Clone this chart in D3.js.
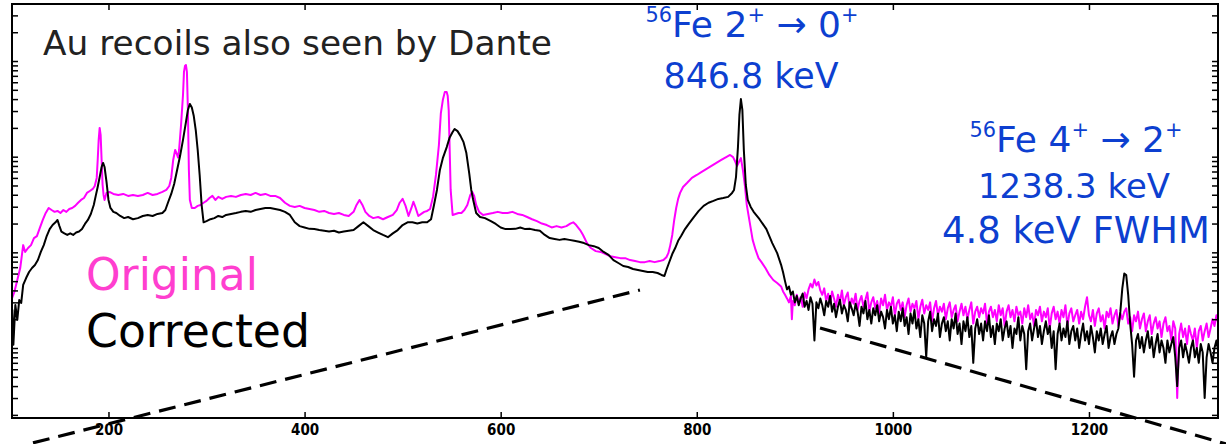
<!DOCTYPE html>
<html>
<head>
<meta charset="utf-8">
<script src="https://cdn.jsdelivr.net/npm/d3@7"></script>
<style>
  body { margin: 0; background: #fff; }
  svg { display: block; }
</style>
</head>
<body>
<svg id="chart" width="1226" height="444"></svg>
<script>
// ---------------- DATA ----------------
const xTicks = [200, 400, 600, 800, 1000, 1200];
const xDomain = [101.6, 1331.6];          // keV
const yDomain = [1.855, 39450];           // counts (log)

// Original (uncorrected) spectrum  [energy keV, counts]
const originalSpectrum = [
[101,31.8],[104,38.5],[107,51.4],[110,68.6],[113,119],[115,101],[118,111],[121,119],[124,141],[127,148],
[130,180],[133,218],[136,258],[139,291],[142,277],[145,265],[148,271],[151,258],[154,277],[157,265],
[160,284],[163,291],[166,306],[169,330],[172,353],[175,370],[178,418],[181,438],[184,460],[186,494],
[188,600],[189,924],[190,1500],[191,2000],[192,1690],[193,924],[194,506],[195,398],[196,353],[198,418],
[201,428],[205,408],[210,398],[215,408],[220,389],[225,398],[230,389],[235,398],[240,418],[245,398],
[250,408],[255,428],[259,449],[262,494],[264,600],[266,924],[268,1175],[270,1042],[271,980],[272,1175],
[274,2140],[276,4410],[277,7700],[278,8860],[279,9080],[280,7700],[281,3080],[282,727],[283,353],[285,291],
[288,291],[291,306],[294,313],[297,330],[300,345],[303,370],[306,389],[309,353],[312,380],[316,362],
[320,380],[325,389],[330,380],[335,398],[340,408],[345,398],[350,418],[355,398],[360,408],[365,389],
[370,389],[375,370],[380,330],[385,306],[390,298],[395,306],[400,291],[405,284],[410,277],[415,265],
[420,271],[425,258],[430,252],[435,258],[440,246],[445,240],[450,265],[453,313],[456,353],[459,313],
[462,265],[466,240],[470,228],[475,234],[480,222],[485,234],[490,246],[494,277],[497,330],[500,362],
[503,306],[506,240],[509,291],[511,338],[513,298],[516,240],[519,252],[522,265],[525,271],[528,284],
[531,380],[534,644],[537,1325],[539,2860],[541,3910],[543,4730],[545,4730],[546,4300],[547,3080],[548,1175],
[549,449],[551,246],[554,252],[557,258],[560,258],[563,277],[566,313],[569,398],[571,428],[573,389],
[575,313],[578,265],[582,246],[587,252],[592,258],[597,265],[602,258],[607,258],[612,265],[617,252],
[622,246],[627,234],[632,222],[637,212],[642,200],[647,193],[652,182],[657,188],[662,182],[667,188],
[671,200],[674,206],[677,193],[681,171],[684,152],[688,125],[692,111],[697,103],[702,101],[707,96],
[712,91],[717,89],[722,87],[727,87],[732,83],[737,81],[742,79],[747,79],[752,81],[757,79],
[762,81],[766,83],[769,89],[771,98],[773,119],[775,152],[777,218],[779,291],[781,362],[783,418],
[786,482],[790,530],[795,600],[800,644],[805,695],[810,745],[815,800],[820,860],[825,924],[830,990],
[834,1042],[837,990],[839,900],[841,800],[843,880],[845,965],[847,727],[849,506],[851,313],[854,206],
[857,135],[860,106],[863,87],[866,79],[870,68.6],[874,58],[878,51.4],[882,47.8],
[886,44],[888,39],[890,36],[892,33],[894,30],[896,35],[897,20],[898,31],[900,28],[902,36],
[904,30],[906,34],[908,27],[910,38],[912,33],[914,41],[916,47],[918,43],[920,52],[922,45],
[924,49],[926,40],[928,36],[930,42],[932,31],[934,37],[936,29],[938,39],[940,33],[942,27],
[944,36],[946,30],[948,40],[950,28],[952,34],[954,38],[956,26],[958,33],[960,29],[962,37],
[964,25],[966,31],[968,35],[970,27],[972,32],[974,38],[976,24],[978,30],[980,34],[982,26],
[984,31],[986,23],[988,33],[990,28],[992,36],[994,25],[996,30],[998,27],[1000,34],[1002,22],
[1004,29],[1006,32],[1008,25],[1010,30],[1012,21],[1014,28],[1016,33],[1018,24],[1020,29],[1022,26],
[1024,31],[1026,20],[1028,27],[1030,32],[1032,23],[1034,28],[1036,25],[1038,30],[1040,19],[1042,26],
[1044,31],[1046,22],[1048,27],[1050,24],[1052,29],[1054,20],[1056,26],[1058,30],[1060,21],[1062,25],
[1064,28],[1066,19],[1068,24],[1070,29],[1072,22],[1074,27],[1076,20],[1078,25],[1080,30],[1082,18],
[1084,24],[1086,27],[1088,21],[1090,26],[1092,23],[1094,29],[1096,18],[1098,24],[1100,27],[1102,21],
[1104,25],[1106,19],[1108,28],[1110,22],[1112,26],[1114,17],[1116,24],[1118,28],[1120,21],[1122,25],
[1124,19],[1126,27],[1128,22],[1130,24],[1132,18],[1134,26],[1136,21],[1138,28],[1140,20],[1142,23],
[1144,17],[1146,25],[1148,22],[1150,27],[1152,19],[1154,24],[1156,21],[1158,26],[1160,16],[1162,23],
[1164,27],[1166,20],[1168,24],[1170,18],[1172,25],[1174,21],[1176,28],[1178,17],[1180,23],[1182,26],
[1184,19],[1186,22],[1188,25],[1190,18],[1192,24],[1194,20],[1196,27],[1198,34],[1200,22],[1202,19],
[1204,25],[1206,17],[1208,23],[1210,26],[1212,19],[1214,22],[1216,16],[1218,24],[1220,21],[1222,26],
[1224,18],[1226,22],[1228,25],[1230,17],[1232,23],[1234,20],[1236,24],[1238,26],[1240,18],[1242,21],
[1244,15],[1246,22],[1248,19],[1250,24],[1252,16],[1254,20],[1256,23],[1258,15],[1260,19],[1262,22],
[1264,14],[1266,18],[1268,21],[1270,16],[1272,19],[1274,13],[1276,18],[1278,21],[1280,15],[1282,17],
[1284,12],[1286,19],[1288,16],[1290,3],[1292,14],[1294,18],[1296,13],[1298,16],[1300,11],[1302,17],
[1304,14],[1306,12],[1308,16],[1310,10],[1312,15],[1314,17],[1316,12],[1318,15],[1320,18],[1322,13],
[1324,16],[1326,20],[1328,17],[1330,22],[1332,18]
];

// Doppler-corrected spectrum  [energy keV, counts]
const correctedSpectrum = [
[101,12.2],[102,25.0],[103,10.8],[105,28.2],[107,19.7],[109,31.8],[111,29.6],[113,45.6],[116,53.9],[119,62.3],
[122,68.6],[125,73.7],[128,83.2],[131,101],[134,119],[137,148],[140,175],[143,193],[146,206],[148,218],
[150,188],[152,165],[155,158],[158,152],[161,158],[164,152],[167,161],[170,165],[173,175],[176,198],
[179,218],[182,252],[185,313],[187,389],[189,482],[191,610],[193,780],[194.5,860],[196,780],[198,545],
[200,353],[202,291],[205,265],[208,258],[212,240],[216,228],[220,234],[225,222],[230,228],[235,240],
[240,246],[245,240],[250,252],[255,258],[258,277],[261,338],[264,408],[267,518],[270,727],[273,1015],
[276,1500],[279,2300],[281,3080],[283,3560],[285,3260],[287,2660],[289,1900],[291,1175],[293,644],[295,313],
[297,206],[300,212],[304,222],[308,228],[312,240],[316,234],[320,246],[325,252],[330,258],[335,265],
[340,271],[345,265],[350,277],[355,284],[360,291],[365,291],[370,284],[375,277],[380,265],[385,246],
[390,206],[395,188],[400,182],[405,176],[410,175],[415,171],[420,168],[425,165],[430,168],[435,161],
[440,165],[445,168],[450,171],[455,188],[460,206],[465,188],[470,171],[475,161],[480,152],[485,144],
[490,158],[495,171],[500,193],[505,206],[510,206],[515,200],[520,206],[525,206],[529,222],[532,313],
[535,449],[538,727],[541,965],[545,1260],[548,1590],[551,1810],[553,1950],[556,1850],[559,1650],[562,1430],
[565,1090],[568,660],[570,449],[572,353],[575,258],[579,234],[584,228],[590,212],[595,198],[600,182],
[605,175],[610,175],[615,176],[620,182],[625,175],[630,176],[635,171],[640,168],[645,152],[650,141],
[655,138],[660,135],[665,138],[670,135],[675,132],[680,129],[685,125],[690,119],[695,116],[700,111],
[705,101],[710,94],[715,83],[720,77.4],[725,72],[730,70.3],[735,67],[740,65.4],[745,63.8],[750,62.3],
[755,62.3],[760,60.8],[764,58],[767,56.6],[769,65.4],[772,79.3],[775,96],[778,111],[781,132],[784,148],
[788,175],[792,200],[797,234],[802,271],[807,306],[812,330],[817,345],[822,362],[827,370],[832,380],
[836,418],[838,449],[840,610],[842,1260],[843.5,2730],[845,4000],[846.5,3080],[848,1175],[850,506],[852,353],
[855,298],[858,265],[864,222],[871,175],[877,125],[882,98],
[886,74],[888,62],[890,50],[892,41],[894,44],[896,36],[898,39],[900,30],[902,35],[904,28],
[906,33],[908,37],[910,27],[912,31],[914,25],[916,34],[918,29],[920,12],[922,30],[924,26],
[926,33],[928,28],[930,22],[932,31],[934,27],[936,35],[938,24],[940,29],[942,21],[944,27],
[946,32],[948,23],[950,28],[952,25],[954,19],[956,30],[958,26],[960,22],[962,29],[964,24],
[966,17],[968,27],[970,23],[972,31],[974,20],[976,25],[978,18],[980,26],[982,22],[984,28],
[986,19],[988,24],[990,21],[992,16],[994,25],[996,20],[998,27],[1000,18],[1002,22],[1004,15],
[1006,24],[1008,19],[1010,26],[1012,17],[1014,21],[1016,14],[1018,23],[1020,18],[1022,25],[1024,16],
[1026,20],[1028,13],[1030,22],[1032,18],[1034,8],[1036,19],[1038,24],[1040,15],[1042,20],[1044,17],
[1046,23],[1048,13],[1050,18],[1052,21],[1054,15],[1056,19],[1058,12],[1060,20],[1062,16],[1064,23],
[1066,14],[1068,18],[1070,11],[1072,19],[1074,15],[1076,21],[1078,13],[1080,17],[1082,7],[1084,16],
[1086,20],[1088,14],[1090,18],[1092,12],[1094,19],[1096,15],[1098,22],[1100,13],[1102,17],[1104,11],
[1106,18],[1108,15],[1110,20],[1112,12],[1114,16],[1116,19],[1118,13],[1120,17],[1122,10],[1124,16],
[1126,14],[1128,21],[1130,12],[1132,17],[1134,14],[1136,6],[1138,15],[1140,18],[1142,12],[1144,16],
[1146,20],[1148,13],[1150,17],[1152,11],[1154,15],[1156,19],[1158,14],[1160,17],[1162,10],[1164,15],
[1166,6],[1168,14],[1170,18],[1172,12],[1174,16],[1176,13],[1178,19],[1180,11],[1182,15],[1184,17],
[1186,12],[1188,16],[1190,10],[1192,14],[1194,18],[1196,12],[1198,15],[1200,11],[1202,17],[1204,13],
[1206,9],[1208,15],[1210,12],[1212,16],[1214,11],[1216,14],[1218,17],[1220,10],[1222,13],[1224,15],
[1226,11],[1228,14],[1230,16],[1232,24],[1234,42],[1236,60],[1238,58],[1240,36],[1242,18],[1244,11],
[1246,5],[1248,12],[1250,14],[1252,10],[1254,13],[1256,9],[1258,12],[1260,15],[1262,10],[1264,13],
[1266,8],[1268,11],[1270,14],[1272,9],[1274,12],[1276,10],[1278,7],[1280,12],[1282,9],[1284,11],
[1286,13],[1288,8],[1290,4],[1292,10],[1294,12],[1296,8],[1298,11],[1300,9],[1302,7],[1304,10],
[1306,12],[1308,8],[1310,10],[1312,7],[1314,11],[1316,9],[1318,3],[1320,8],[1322,11],[1324,9],
[1326,7],[1328,10],[1330,12],[1332,9]
];

// Hand-drawn dashed background guide lines [energy keV, counts]
const guideLeft  = [[123, 1.02], [742, 40.4]];
const guideRight = [[925.7, 16.2], [1339.7, 0.995]];

// ---------------- CHART ----------------
const plot = { left: 12, right: 1218, top: 4, bottom: 418 };

const svg = d3.select("#chart");
const x = d3.scaleLinear().domain(xDomain).range([plot.left, plot.right]);
const y = d3.scaleLog().domain(yDomain).range([plot.bottom, plot.top]);

svg.append("defs").append("clipPath").attr("id", "clip")
  .append("rect").attr("x", plot.left).attr("y", plot.top)
  .attr("width", plot.right - plot.left).attr("height", plot.bottom - plot.top);

// log minor ticks
const yTickVals = [];
[1, 10, 100, 1000, 10000].forEach(d => {
  for (let k = 1; k <= 9; k++) {
    const v = k * d;
    if (v >= yDomain[0] && v <= yDomain[1]) yTickVals.push(v);
  }
});

const line = d3.line().x(d => x(d[0])).y(d => y(d[1]));

const g = svg.append("g").attr("clip-path", "url(#clip)");
g.append("path").datum(originalSpectrum)
  .attr("d", line).attr("fill", "none")
  .attr("stroke", "#ff00ff").attr("stroke-width", 2).attr("stroke-linejoin", "round");
g.append("path").datum(correctedSpectrum)
  .attr("d", line).attr("fill", "none")
  .attr("stroke", "#000").attr("stroke-width", 2).attr("stroke-linejoin", "round");

// axes
function styleAxis(sel) {
  sel.select(".domain").remove();
  sel.selectAll(".tick line").attr("stroke", "#000").attr("stroke-width", 1.5);
}
const axB = svg.append("g").attr("transform", `translate(0,${plot.bottom})`)
  .call(d3.axisBottom(x).tickValues(xTicks).tickSize(-6).tickPadding(6).tickFormat(d3.format("d")));
styleAxis(axB);
axB.selectAll("text")
  .attr("font-family", "'Liberation Sans Narrow', 'DejaVu Sans Condensed', sans-serif")
  .attr("font-weight", "bold").attr("font-size", 15).attr("fill", "#000");

const axT = svg.append("g").attr("transform", `translate(0,${plot.top})`)
  .call(d3.axisTop(x).tickValues(xTicks).tickSize(-6).tickFormat(""));
styleAxis(axT);
const axL = svg.append("g").attr("transform", `translate(${plot.left},0)`)
  .call(d3.axisLeft(y).tickValues(yTickVals).tickSize(-6).tickFormat(""));
styleAxis(axL);
const axR = svg.append("g").attr("transform", `translate(${plot.right},0)`)
  .call(d3.axisRight(y).tickValues(yTickVals).tickSize(-6).tickFormat(""));
styleAxis(axR);

svg.append("rect").attr("x", plot.left).attr("y", plot.top)
  .attr("width", plot.right - plot.left).attr("height", plot.bottom - plot.top)
  .attr("fill", "none").attr("stroke", "#000").attr("stroke-width", 2);

// dashed guides
[guideLeft, guideRight].forEach(gd => {
  svg.append("path").datum(gd).attr("d", line)
    .attr("fill", "none").attr("stroke", "#000").attr("stroke-width", 3.2)
    .attr("stroke-dasharray", "17,9");
});

// ---------------- TEXT ----------------
const FONT = "'DejaVu Sans', 'Lato', sans-serif";
function fit(t, targetW) {
  const w = t.node().getComputedTextLength();
  const fs = parseFloat(t.attr("font-size"));
  t.attr("font-size", fs * targetW / w);
}
function plain(str, xp, yb, anchor, fs, color, width) {
  const t = svg.append("text").attr("x", xp).attr("y", yb)
    .attr("text-anchor", anchor).attr("font-family", FONT)
    .attr("font-size", fs).attr("fill", color).text(str);
  fit(t, width);
  return t;
}
function rich(parts, xp, yb, fs, color, width) {
  const t = svg.append("text").attr("x", xp).attr("y", yb)
    .attr("text-anchor", "middle").attr("font-family", FONT)
    .attr("font-size", fs).attr("fill", color);
  let up = false;
  parts.forEach(p => {
    const s = t.append("tspan").text(p.t);
    if (p.sup) {
      s.attr("font-size", "0.58em").attr("dy", up ? 0 : "-0.7em");
      up = true;
    } else {
      if (up) s.attr("dy", "0.406em");
      up = false;
    }
  });
  fit(t, width);
  return t;
}

const BLUE = "#0d3fd0";
plain("Au recoils also seen by Dante", 43, 55, "start", 32, "#222", 509);

rich([{t:"56",sup:true},{t:"Fe 2"},{t:"+",sup:true},{t:" \u2192 0"},{t:"+",sup:true}],
     752, 37, 34, BLUE, 213);
plain("846.8 keV", 751, 88, "middle", 36, BLUE, 175);

rich([{t:"56",sup:true},{t:"Fe 4"},{t:"+",sup:true},{t:" \u2192 2"},{t:"+",sup:true}],
     1076, 152, 34, BLUE, 213);
plain("1238.3 keV", 1074, 198, "middle", 36, BLUE, 192);
plain("4.8 keV FWHM", 1076, 243, "middle", 36, BLUE, 268);

plain("Original", 86, 290, "start", 46, "#ff3fcf", 172);
plain("Corrected", 86, 347, "start", 46, "#000", 224);
</script>
</body>
</html>
